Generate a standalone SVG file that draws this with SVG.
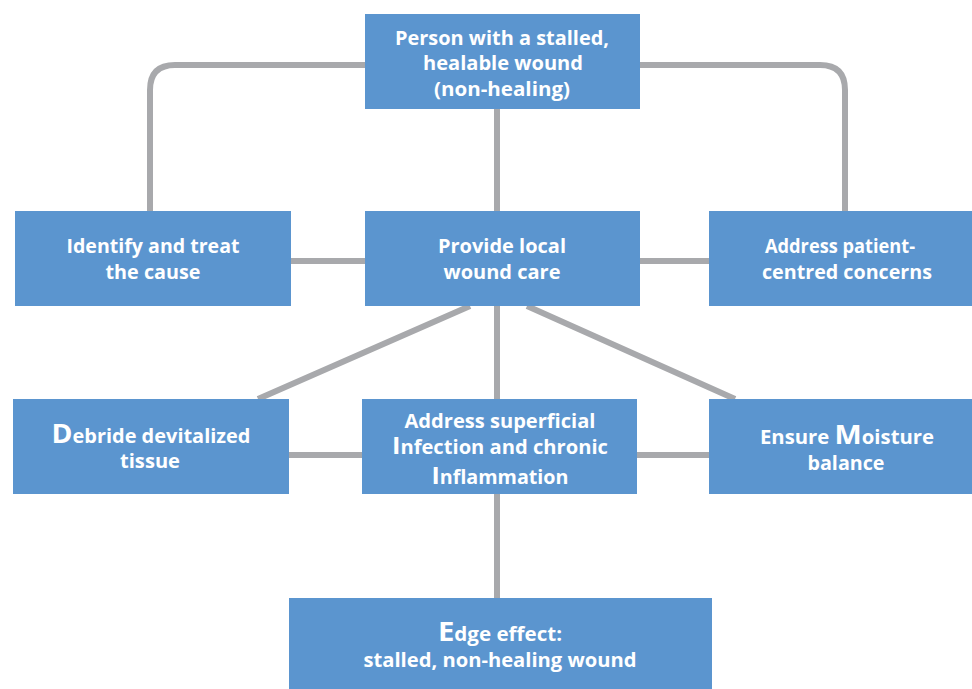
<svg xmlns="http://www.w3.org/2000/svg" width="972" height="689" viewBox="0 0 972 689">
<style>
.box{fill:#5b95cf}
.t{font-family:"Open Sans","Liberation Sans",sans-serif;font-weight:bold;font-size:19px;fill:#ffffff;text-anchor:middle}
.big{font-size:27px}
.bigi{font-size:24px}
.c{fill:none;stroke:#a8a9ac;stroke-width:6}
</style>
<rect width="972" height="689" fill="#ffffff"/>
<g id="connectors">
<path class="c" d="M365,65 H175 Q150,65 150,90 V211"/>
<path class="c" d="M640,65 H820 Q845,65 845,90 V211"/>
<path class="c" d="M497,109 V211"/>
<path class="c" d="M291,261 H365 M640,261 H709"/>
<path class="c" d="M470,306 L258,399 M527,306 L735,399 M497,306 V399"/>
<path class="c" d="M289,455 H362 M637,455 H709"/>
<path class="c" d="M497,494 V598"/>
</g>
<g id="n-top">
<rect class="box" x="365" y="14" width="275" height="95"/>
<text class="t" x="502" y="45" textLength="214" lengthAdjust="spacingAndGlyphs">Person with a stalled,</text>
<text class="t" x="503" y="70" textLength="160" lengthAdjust="spacingAndGlyphs">healable wound</text>
<text class="t" x="502" y="96" textLength="136" lengthAdjust="spacingAndGlyphs">(non-healing)</text>
</g>
<g id="n-cause">
<rect class="box" x="15" y="211" width="276" height="95"/>
<text class="t" x="153" y="253" textLength="173" lengthAdjust="spacingAndGlyphs">Identify and treat</text>
<text class="t" x="153" y="279" textLength="95" lengthAdjust="spacingAndGlyphs">the cause</text>
</g>
<g id="n-local">
<rect class="box" x="365" y="211" width="275" height="95"/>
<text class="t" x="502" y="253" textLength="128" lengthAdjust="spacingAndGlyphs">Provide local</text>
<text class="t" x="502" y="279" textLength="117" lengthAdjust="spacingAndGlyphs">wound care</text>
</g>
<g id="n-patient">
<rect class="box" x="709" y="211" width="263" height="95"/>
<text class="t" x="840" y="253" textLength="150" lengthAdjust="spacingAndGlyphs">Address patient-</text>
<text class="t" x="847" y="279" textLength="170" lengthAdjust="spacingAndGlyphs">centred concerns</text>
</g>
<g id="n-debride">
<rect class="box" x="13" y="399" width="276" height="95"/>
<text class="t" x="151" y="443" textLength="199" lengthAdjust="spacingAndGlyphs"><tspan class="big">D</tspan>ebride devitalized</text>
<text class="t" x="150" y="468" textLength="60" lengthAdjust="spacingAndGlyphs">tissue</text>
</g>
<g id="n-infection">
<rect class="box" x="362" y="399" width="275" height="95"/>
<text class="t" x="500" y="428" textLength="191" lengthAdjust="spacingAndGlyphs">Address superficial</text>
<text class="t" x="500" y="454" textLength="216" lengthAdjust="spacingAndGlyphs"><tspan class="bigi">I</tspan>nfection and chronic</text>
<text class="t" x="500" y="484" textLength="137" lengthAdjust="spacingAndGlyphs"><tspan class="bigi">I</tspan>nflammation</text>
</g>
<g id="n-moisture">
<rect class="box" x="709" y="399" width="263" height="95"/>
<text class="t" x="847" y="444" textLength="174" lengthAdjust="spacingAndGlyphs">Ensure <tspan class="big">M</tspan>oisture</text>
<text class="t" x="846" y="470" textLength="77" lengthAdjust="spacingAndGlyphs">balance</text>
</g>
<g id="n-edge">
<rect class="box" x="289" y="598" width="423" height="91"/>
<text class="t" x="500" y="641" textLength="124" lengthAdjust="spacingAndGlyphs"><tspan class="big">E</tspan>dge effect:</text>
<text class="t" x="500" y="667" textLength="273" lengthAdjust="spacingAndGlyphs">stalled, non-healing wound</text>
</g>
</svg>
